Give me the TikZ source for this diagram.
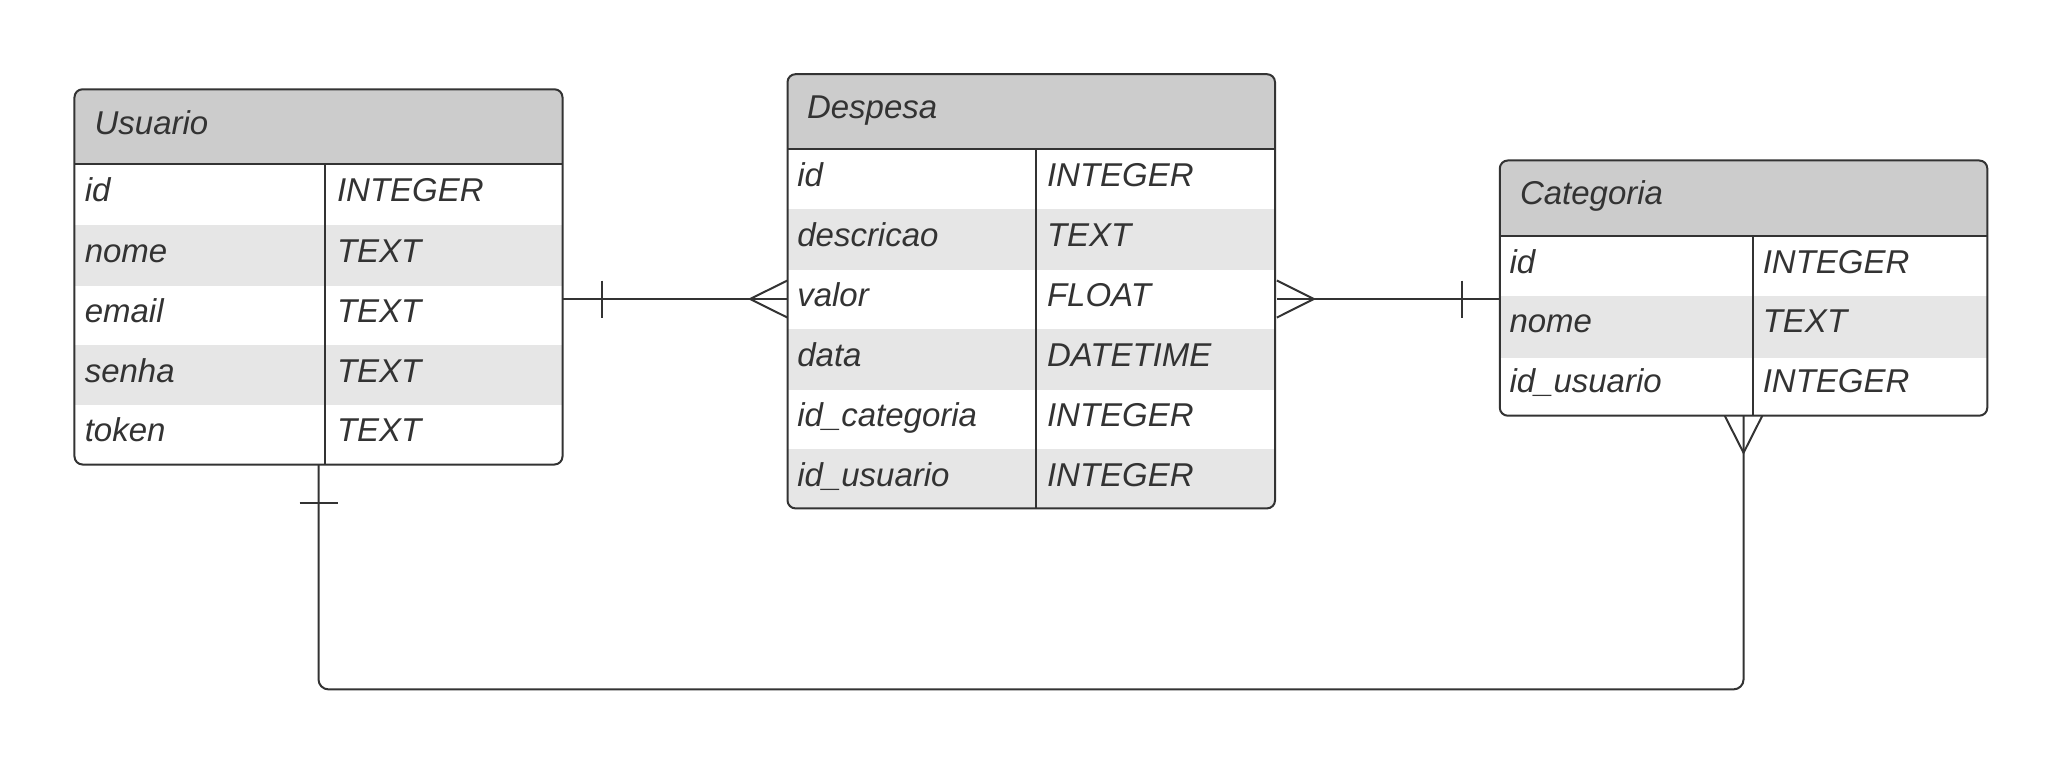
\documentclass[tikz,border=0pt]{standalone}
\usepackage{fontspec}
\setmainfont{Liberation Sans}
\usetikzlibrary{backgrounds}
\definecolor{ink}{HTML}{333333}
\definecolor{hdrfill}{HTML}{CCCCCC}
\definecolor{altfill}{HTML}{E6E6E6}
\begin{document}
\begin{tikzpicture}[x=1bp,y=-1bp,
  tbl/.style={draw=ink, line width=2bp, rounded corners=8bp, inner sep=0pt, outer sep=0pt},
  txt/.style={anchor=base west, inner sep=0pt, outer sep=0pt, text=ink, font=\fontsize{33bp}{40bp}\selectfont\itshape},
  rule/.style={draw=ink, line width=2bp},
  conn/.style={draw=ink, line width=2bp, line join=miter}]
\useasboundingbox (0,0) rectangle (2063,765);

% ---------- Usuario ----------
\node[tbl, minimum width=488bp, minimum height=375.2bp] (usu) at (318.5,276.9) {};
\begin{pgfonlayer}{background}
\begin{scope}
  \clip[rounded corners=8bp] (usu.north west) rectangle (usu.south east);
  \fill[hdrfill] (usu.north west) rectangle (usu.east |- 0,164.4);
  \fill[altfill] (usu.west |- 0,224.9) rectangle (usu.east |- 0,285.9);
  \fill[altfill] (usu.west |- 0,345) rectangle (usu.east |- 0,405.4);
\end{scope}
\end{pgfonlayer}
\draw[rule] (usu.west |- 0,164.4) -- (usu.east |- 0,164.4);
\draw[rule] (325,164.4) -- (325,0 |- usu.south);
\node[txt] (usuT) at (94.6,134.2) {Usuario};
\node[txt] (usuA1) at (84.8,201.5) {id};
\node[txt] (usuB1) at (337,201.5) {INTEGER};
\node[txt] (usuA2) at (84.8,262) {nome};
\node[txt] (usuB2) at (337,262) {TEXT};
\node[txt] (usuA3) at (84.8,322) {email};
\node[txt] (usuB3) at (337,322) {TEXT};
\node[txt] (usuA4) at (84.8,382) {senha};
\node[txt] (usuB4) at (337,382) {TEXT};
\node[txt] (usuA5) at (84.8,441.5) {token};
\node[txt] (usuB5) at (337,441.5) {TEXT};

% ---------- Despesa ----------
\node[tbl, minimum width=487.5bp, minimum height=434.2bp] (desp) at (1031.25,291.3) {};
\begin{pgfonlayer}{background}
\begin{scope}
  \clip[rounded corners=8bp] (desp.north west) rectangle (desp.south east);
  \fill[hdrfill] (desp.north west) rectangle (desp.east |- 0,148.8);
  \fill[altfill] (desp.west |- 0,208.8) rectangle (desp.east |- 0,270.3);
  \fill[altfill] (desp.west |- 0,329.3) rectangle (desp.east |- 0,390.3);
  \fill[altfill] (desp.west |- 0,448.9) rectangle (desp.south east);
\end{scope}
\end{pgfonlayer}
\draw[rule] (desp.west |- 0,148.8) -- (desp.east |- 0,148.8);
\draw[rule] (1035.7,148.8) -- (1035.7,0 |- desp.south);
\node[txt] (despT) at (807,118.6) {Despesa};
\node[txt] (despA1) at (797.3,186.4) {id};
\node[txt] (despB1) at (1047,186.4) {INTEGER};
\node[txt] (despA2) at (797.3,246.4) {descricao};
\node[txt] (despB2) at (1047,246.4) {TEXT};
\node[txt] (despA3) at (797.3,306.3) {valor};
\node[txt] (despB3) at (1047,306.3) {FLOAT};
\node[txt] (despA4) at (797.3,366.2) {data};
\node[txt] (despB4) at (1047,366.2) {DATETIME};
\node[txt] (despA5) at (797.3,426.1) {id\_categoria};
\node[txt] (despB5) at (1047,426.1) {INTEGER};
\node[txt] (despA6) at (797.3,486) {id\_usuario};
\node[txt] (despB6) at (1047,486) {INTEGER};

% ---------- Categoria ----------
\node[tbl, minimum width=487.5bp, minimum height=255.2bp] (cat) at (1743.55,288.1) {};
\begin{pgfonlayer}{background}
\begin{scope}
  \clip[rounded corners=8bp] (cat.north west) rectangle (cat.south east);
  \fill[hdrfill] (cat.north west) rectangle (cat.east |- 0,236.1);
  \fill[altfill] (cat.west |- 0,296.2) rectangle (cat.east |- 0,357.6);
\end{scope}
\end{pgfonlayer}
\draw[rule] (cat.west |- 0,236.1) -- (cat.east |- 0,236.1);
\draw[rule] (1752.6,236.1) -- (1752.6,0 |- cat.south);
\node[txt] (catT) at (1520,204.9) {Categoria};
\node[txt] (catA1) at (1509.5,273.2) {id};
\node[txt] (catB1) at (1762.8,273.2) {INTEGER};
\node[txt] (catA2) at (1509.5,332.8) {nome};
\node[txt] (catB2) at (1762.8,332.8) {TEXT};
\node[txt] (catA3) at (1509.5,392.8) {id\_usuario};
\node[txt] (catB3) at (1762.8,392.8) {INTEGER};

% ---------- Connectors ----------
% Usuario (one) -- Despesa (many)
\draw[conn] (usu.east |- 0,299) -- (desp.west |- 0,299);
\draw[conn] (601.8,280.5) -- (601.8,317.6);
\draw[conn] (desp.west |- 0,280.5) -- (750,299) -- (desp.west |- 0,317.6);

% Despesa (many) -- Categoria (one)
\draw[conn] (1276.8,299) -- (cat.west |- 0,299);
\draw[conn] (1276.8,280.5) -- (1313.8,299) -- (1276.8,317.6);
\draw[conn] (1462.2,280.5) -- (1462.2,317.6);

% Usuario (one) -- Categoria (many)
\draw[conn, rounded corners=10bp] (usu.south) -- (usu.south |- 0,689.4) -- (cat.south |- 0,689.4) -- (cat.south);
\draw[conn] (299.5,502.5) -- (337.5,502.5);
\draw[conn] (1724.7,415.7) -- (cat.south |- 0,452.8) -- (1762.3,415.7);
\end{tikzpicture}
\end{document}
